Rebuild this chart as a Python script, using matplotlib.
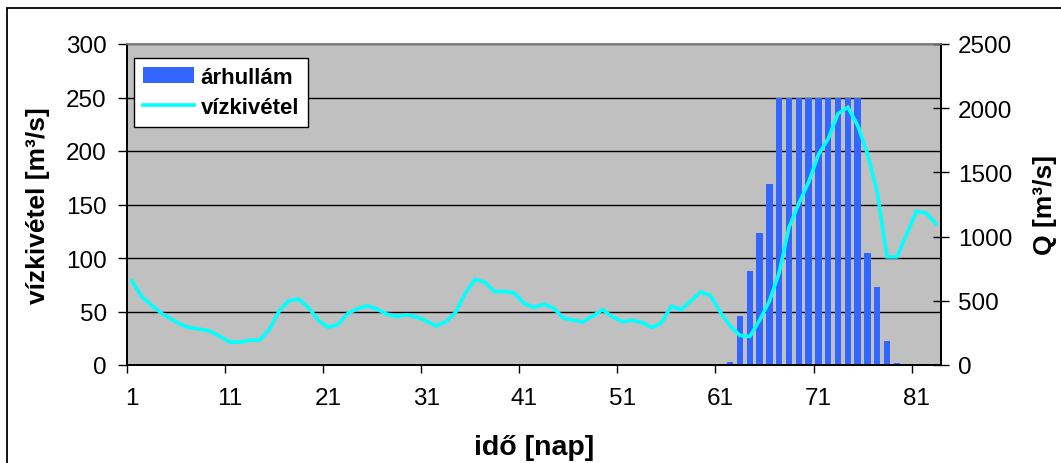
import matplotlib
matplotlib.use('Agg')
import matplotlib.pyplot as plt
from matplotlib.patches import Rectangle
from matplotlib.ticker import FixedLocator, NullFormatter

plt.rcParams['font.family'] = ['Liberation Sans', 'DejaVu Sans']

# napok (1..83)
napok = list(range(1, 84))

# árhullám oszlopok [m3/s] - bal tengely
arhullam = [0] * 61 + [3, 46, 88, 123, 169,
                       250, 250, 250, 250, 250, 250, 250, 250, 250,
                       105, 73, 22.5, 1.5] + [0] * 4

# vízkivétel görbe - jobb tengely (Q)
vizkivetel = [656, 531, 467, 403, 357, 315, 289, 278, 263, 222,
              178, 178, 193, 193, 275, 419, 500, 513, 448, 349,
              294, 315, 400, 438, 461, 435, 396, 378, 391, 375,
              344, 305, 336, 408, 560, 667, 643, 570, 573, 560,
              479, 448, 474, 443, 365, 349, 336, 383, 430, 375,
              338, 348, 332, 292, 329, 458, 431, 500, 569, 541,
              410, 306, 230, 222, 348, 497, 718, 1071, 1258, 1423,
              1638, 1763, 1958, 2007, 1867, 1646, 1345, 842, 842, 1019,
              1197, 1183, 1098]

bal_ticks = [0, 50, 100, 150, 200, 250, 300]
jobb_ticks = [0, 500, 1000, 1500, 2000, 2500]
x_cimkek = [1, 11, 21, 31, 41, 51, 61, 71, 81]

W, H = 1061, 464
fig = plt.figure(figsize=(W / 100, H / 100), dpi=100)
ax = fig.add_axes([127 / W, 1 - 366 / H, (941 - 127) / W, (366 - 45) / H])
ax2 = ax.twinx()

ax.set_facecolor('#C0C0C0')
ax.bar(napok, arhullam, width=0.65, color='#3366FF', zorder=3, label='árhullám')
ax2.plot(napok, vizkivetel, color='#00FFFF', lw=2.6, solid_joinstyle='miter',
         label='vízkivétel')

ax.set_xlim(0.5, 83.5)
ax.set_ylim(0, 300)
ax2.set_ylim(0, 2500)
ax.set_yticks(bal_ticks)
ax2.set_yticks(jobb_ticks)
ax.grid(axis='y', color='black', lw=1, zorder=1)
ax.set_axisbelow(True)

# x tengely: osztások a kategóriák határán, feliratok a kategóriák közepén
ax.xaxis.set_major_locator(FixedLocator([x - 0.5 for x in x_cimkek]))
ax.xaxis.set_major_formatter(NullFormatter())
ax.set_xticks(x_cimkek, [str(x) for x in x_cimkek], minor=True)
ax.tick_params(axis='x', which='major', direction='out', length=6, width=1)
ax.tick_params(axis='x', which='minor', length=0, pad=16, labelsize=17.5)
ax.tick_params(axis='y', direction='out', length=6.5, width=1, pad=8, labelsize=17.5)
ax2.tick_params(axis='y', direction='inout', length=12, width=1, pad=6, labelsize=17.5)

for a in (ax, ax2):
    for s in ('left', 'bottom', 'right'):
        a.spines[s].set_color('black')
        a.spines[s].set_linewidth(1.3)
    a.spines['top'].set_color('#808080')
    a.spines['top'].set_linewidth(1.2)

ax.set_ylabel('vízkivétel [m³/s]', fontsize=19, fontweight='bold')
ax.yaxis.set_label_coords(-0.095, 0.5)
ax2.set_ylabel('Q [m³/s]', fontsize=19, fontweight='bold')
ax2.yaxis.set_label_coords(1.113, 0.5)
ax.set_xlabel('idő [nap]', fontsize=20.5, fontweight='bold')
ax.xaxis.set_label_coords(0.5, -0.215)

h1, l1 = ax.get_legend_handles_labels()
h2, l2 = ax2.get_legend_handles_labels()
leg = ax2.legend(h1 + h2, l1 + l2, loc='upper left',
                 bbox_to_anchor=(134 / W, 1 - 59 / H), bbox_transform=fig.transFigure,
                 borderaxespad=0, fancybox=False, framealpha=1, edgecolor='black',
                 prop={'weight': 'bold', 'size': 16}, handlelength=2.3,
                 handleheight=0.7, labelspacing=0.4, borderpad=0.4, handletextpad=0.3)
leg.get_frame().set_linewidth(1)

# diagram kerete
fig.patches.append(Rectangle((7 / W, -0.1), 1.2, 1.1 - 9 / H, transform=fig.transFigure,
                             fill=False, edgecolor='black', lw=1.3))

fig.savefig('out.png', dpi=100)
